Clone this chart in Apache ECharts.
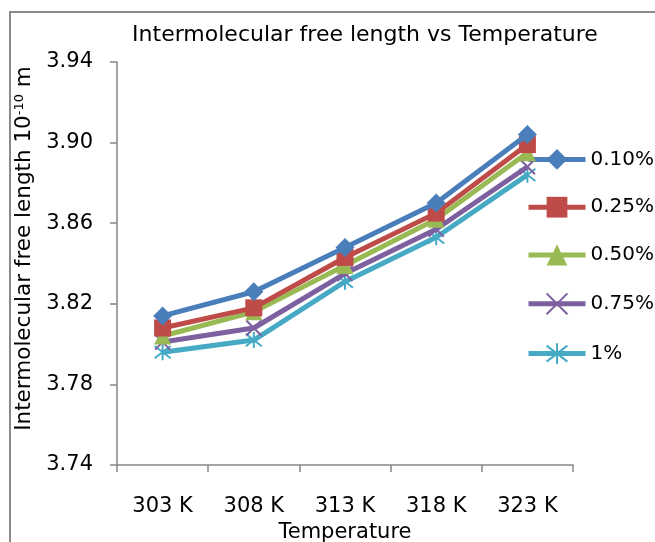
<!DOCTYPE html>
<html>
<head>
<meta charset="utf-8">
<script src="https://cdn.jsdelivr.net/npm/echarts@6/dist/echarts.min.js"></script>
<style>html,body{margin:0;padding:0;background:#fff}#c{width:655px;height:542px}</style>
</head>
<body>
<div id="c"></div>
<script>
const categories = ['303 K', '308 K', '313 K', '318 K', '323 K'];
const seriesNames = ['0.10%', '0.25%', '0.50%', '0.75%', '1%'];
const s010 = [3.814, 3.826, 3.848, 3.870, 3.904];
const s025 = [3.808, 3.818, 3.843, 3.865, 3.899];
const s050 = [3.804, 3.816, 3.839, 3.862, 3.895];
const s075 = [3.801, 3.808, 3.835, 3.857, 3.888];
const s1 = [3.796, 3.802, 3.831, 3.853, 3.884];
const yTicks = [3.74, 3.78, 3.82, 3.86, 3.90, 3.94];

const FONT = 'DejaVu Sans';
const colors = ['#4A7EBB', '#BE4B48', '#98B954', '#7D60A0', '#46AAC5'];
const symbols = [
  'diamond',
  'rect',
  'triangle',
  'path://M0,0 L10,10 M10,0 L0,10',
  'path://M0,0 L10,10 M10,0 L0,10 M5,-1.5 L5,11.5'
];
const sizes = [19, 17, 17, 15, 16];
const allData = [s010, s025, s050, s075, s1];

const series = allData.map((d, i) => {
  const isPath = i >= 3;
  return {
    name: seriesNames[i],
    type: 'line',
    data: d,
    symbol: symbols[i],
    symbolSize: sizes[i],
    showAllSymbol: true,
    lineStyle: { color: colors[i], width: 5 },
    itemStyle: isPath
      ? { color: colors[i], borderColor: colors[i], borderWidth: 2 }
      : { color: colors[i], borderWidth: 0 },
    emphasis: { disabled: true },
    z: 10 - i
  };
});

const chart = echarts.init(document.getElementById('c'), null, { renderer: 'canvas' });
chart.setOption({
  animation: false,
  backgroundColor: '#fff',
  title: {
    text: 'Intermolecular free length vs Temperature',
    left: 360, top: 19, textAlign: 'center',
    textStyle: { fontFamily: FONT, fontSize: 22, fontWeight: 'normal', color: '#000' }
  },
  grid: { left: 117, right: 82, top: 62, bottom: 77, containLabel: false, outerBoundsMode: 'none' },
  legend: {
    orient: 'vertical',
    left: 521, top: 144,
    itemWidth: 57, itemHeight: 26, itemGap: 27,
    selectedMode: false,
    lineStyle: { width: 5 },
    textStyle: { fontFamily: FONT, fontSize: 20, color: '#000' },
    data: seriesNames
  },
  xAxis: {
    type: 'category',
    data: categories,
    boundaryGap: true,
    name: 'Temperature',
    nameLocation: 'middle',
    nameGap: 53,
    nameTextStyle: { fontFamily: FONT, fontSize: 21, color: '#000' },
    axisLine: { lineStyle: { color: '#868686', width: 1.5 } },
    axisTick: { show: true, length: 7, lineStyle: { color: '#868686', width: 1.5 } },
    axisLabel: { fontFamily: FONT, fontSize: 21, color: '#000', margin: 31 },
    splitLine: { show: false }
  },
  yAxis: {
    type: 'value',
    min: 3.74, max: 3.94, interval: 0.04,
    name: 'Intermolecular free length 10{sup|-10} m',
    nameLocation: 'middle',
    nameGap: 81,
    nameRotate: 90,
    nameTextStyle: {
      fontFamily: FONT, fontSize: 21.5, color: '#000', padding: [0, 0, 0, 30],
      rich: { sup: { fontFamily: FONT, fontSize: 13, color: '#000', padding: [0, 0, 10, 0] } }
    },
    axisLine: { show: true, lineStyle: { color: '#868686', width: 1.5 } },
    axisTick: { show: true, length: 7, lineStyle: { color: '#868686', width: 1.5 } },
    axisLabel: {
      fontFamily: FONT, fontSize: 21, color: '#000', margin: 24,
      formatter: v => v.toFixed(2)
    },
    splitLine: { show: false }
  },
  graphic: [{
    type: 'rect',
    shape: { x: 10, y: 12, width: 660, height: 540 },
    style: { fill: 'none', stroke: '#8a8a8a', lineWidth: 2 },
    silent: true
  }],
  series: series
});
</script>
</body>
</html>
